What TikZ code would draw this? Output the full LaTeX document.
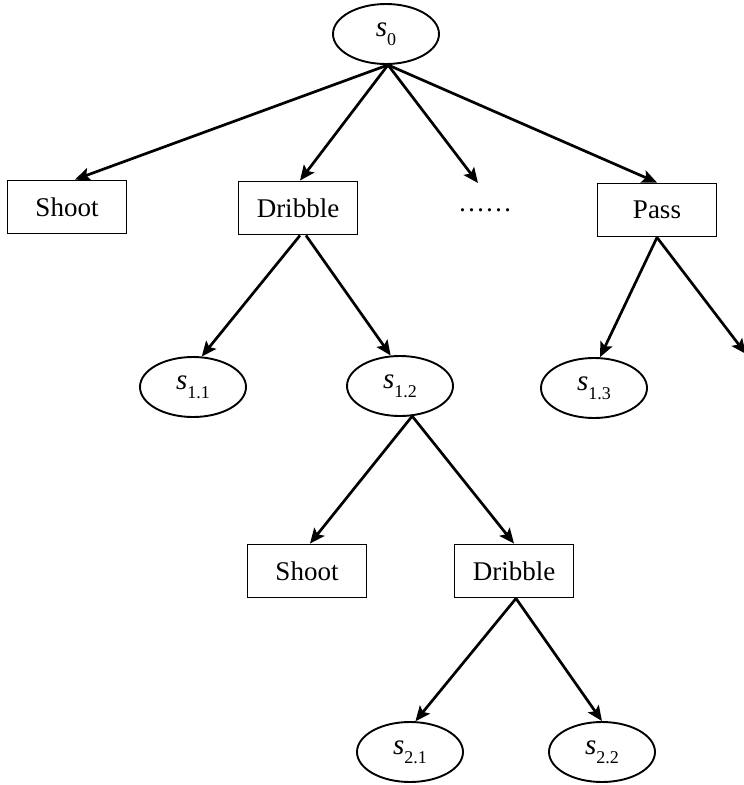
\documentclass[tikz,border=0pt]{standalone}
\usepackage{fontspec}
\setmainfont{Liberation Serif}
\usetikzlibrary{shapes.geometric,arrows.meta,calc}
\newcommand\stt[1]{{\fontsize{29}{30}\selectfont\textit{s}}\raisebox{-0.32em}{\fontsize{18}{18}\selectfont #1}}
\begin{document}
\begin{tikzpicture}[x=1pt,y=-1pt,
  every node/.style={font=\fontsize{27}{30}\selectfont},
  st/.style={ellipse,draw,line width=1.9pt,minimum width=106pt,minimum height=60pt,inner sep=0pt},
  act/.style={rectangle,draw,line width=1.9pt,minimum width=119pt,minimum height=53pt,inner sep=0pt},
  arr/.style={line width=2.7pt,-{Stealth[length=15pt,width=13pt,inset=3pt]}}]
\useasboundingbox (0,0) rectangle (744,785);
\node[st] (s0) at (386,34) {\stt{0}};
\node[act] (shoot1) at (67,207) {Shoot};
\node[act] (drib1) at (298,208) {Dribble};
\node (dots) at (485,210) {……};
\coordinate (dotsin) at (478,183);
\node[act] (pass) at (657,210) {Pass};
\coordinate (passout) at (746,354);
\node[st] (s11) at (193,387) {\stt{1.1}};
\node[st] (s12) at (400,386) {\stt{1.2}};
\node[st] (s13) at (594,388) {\stt{1.3}};
\node[act] (shoot2) at (307,571) {Shoot};
\node[act] (drib2) at (514,571) {Dribble};
\node[st] (s21) at (410,752) {\stt{2.1}};
\node[st] (s22) at (602,752) {\stt{2.2}};
\draw[arr] ($(s0.south)+(2,0)$) -- ($(shoot1.north)+(8,0)$);
\draw[arr] ($(s0.south)+(2,0)$) -- ($(drib1.north)+(2,0)$);
\draw[arr] ($(s0.south)+(2,0)$) -- (dotsin);
\draw[arr] ($(s0.south)+(2,0)$) -- (pass.north);
\draw[arr] ($(drib1.south)+(2,0)$) -- (s11.74);
\draw[arr] ($(drib1.south)+(8,0)$) -- (s12.107);
\draw[arr] (pass.south) -- (s13.79);
\draw[arr] (pass.south) -- (passout);
\draw[arr] (s12.-68) -- ($(shoot2.north)+(3,0)$);
\draw[arr] (s12.-68) -- (drib2.north);
\draw[arr] ($(drib2.south)+(2,0)$) -- (s21.80);
\draw[arr] ($(drib2.south)+(2,0)$) -- (s22.north);
\end{tikzpicture}
\end{document}
